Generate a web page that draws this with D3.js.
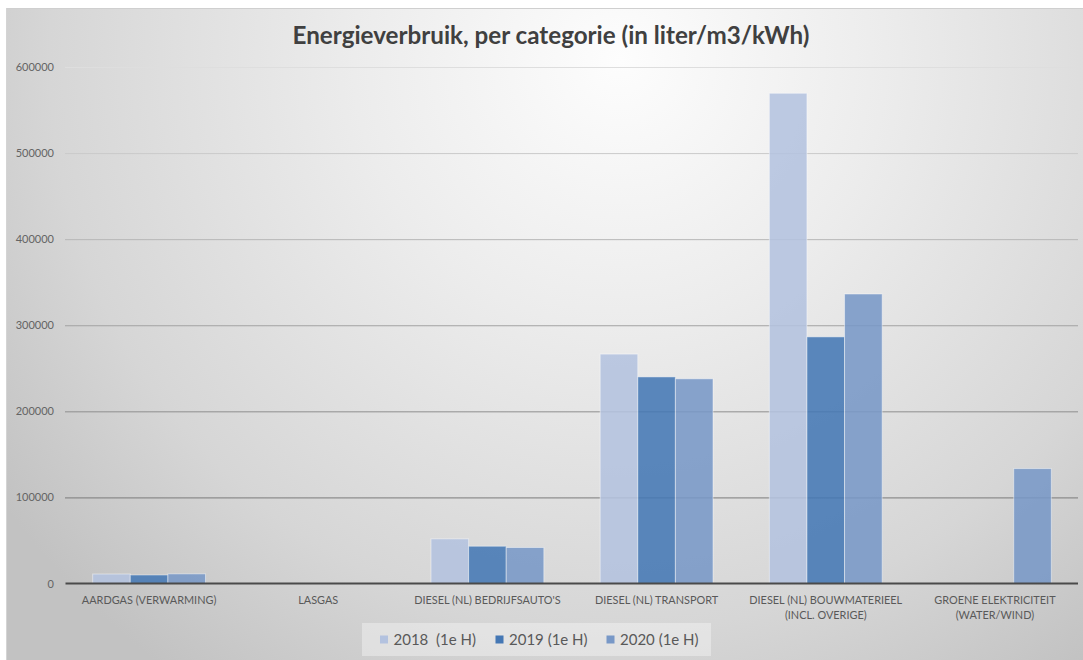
<!DOCTYPE html>
<html>
<head>
<meta charset="utf-8">
<script src="https://cdn.jsdelivr.net/npm/d3@7/dist/d3.min.js"></script>
<style>
  html, body { margin: 0; padding: 0; background: #ffffff; }
  svg { display: block; }
</style>
</head>
<body>
<svg id="chart" width="1083" height="660"></svg>
<script>
const title = "Energieverbruik, per categorie (in liter/m3/kWh)";
const categories = [
  "AARDGAS (VERWARMING)",
  "LASGAS",
  "DIESEL (NL) BEDRIJFSAUTO'S",
  "DIESEL (NL) TRANSPORT",
  "DIESEL (NL) BOUWMATERIEEL\n(INCL. OVERIGE)",
  "GROENE ELEKTRICITEIT\n(WATER/WIND)"
];
const seriesNames = ["2018  (1e H)", "2019 (1e H)", "2020 (1e H)"];
const values2018 = [11000, 0, 51900, 266500, 569500, 0];
const values2019 = [9900, 0, 43300, 240000, 286500, 0];
const values2020 = [11200, 0, 41800, 237800, 336300, 133500];
const yTicks = [0, 100000, 200000, 300000, 400000, 500000, 600000];
const seriesColors = ["#b3c2df", "#4477b4", "#7898c7"];

const seriesValues = [values2018, values2019, values2020];
const svg = d3.select("#chart");
const W = 1083, H = 660;

// background
const defs = svg.append("defs");
const rg = defs.append("radialGradient").attr("id", "bg")
  .attr("gradientUnits", "userSpaceOnUse")
  .attr("cx", 620).attr("cy", 60).attr("r", 760)
  .attr("fx", 620).attr("fy", 60);
rg.append("stop").attr("offset", "0%").attr("stop-color", "#fdfdfd");
rg.append("stop").attr("offset", "35%").attr("stop-color", "#ececec");
rg.append("stop").attr("offset", "75%").attr("stop-color", "#d6d6d6");
rg.append("stop").attr("offset", "100%").attr("stop-color", "#c2c2c2");

svg.append("rect").attr("x", 0).attr("y", 0).attr("width", W).attr("height", H).attr("fill", "#ffffff");
svg.append("rect").attr("x", 6).attr("y", 8).attr("width", W - 6).attr("height", H - 8).attr("fill", "url(#bg)");
svg.append("line").attr("x1", 6).attr("x2", W).attr("y1", 8.5).attr("y2", 8.5).attr("stroke", "#cfcfcf");
svg.append("line").attr("x1", 6.5).attr("x2", 6.5).attr("y1", 8).attr("y2", H).attr("stroke", "#d4d4d4");

const x0 = d3.scaleBand().domain(categories).range([64.5, 1079.5]).paddingInner(0.333).paddingOuter(0.1665);
const x1 = d3.scaleBand().domain(seriesNames).range([0, x0.bandwidth()]).padding(0);
const y = d3.scaleLinear().domain([0, 600000]).range([583.5, 67]);
const gridColor = d3.scaleLinear().domain([100000, 600000]).range(["#7a7a7a", "#dedede"]);

// gridlines
const grid = svg.append("g")
  .attr("transform", "translate(65,0)")
  .call(d3.axisLeft(y).tickValues(yTicks.filter(v => v > 0)).tickSize(-1013).tickFormat(""));
grid.select(".domain").remove();
grid.selectAll(".tick line").attr("stroke", d => gridColor(d)).attr("stroke-width", 1);

// y labels
const yAxis = svg.append("g")
  .attr("transform", "translate(54,0)")
  .call(d3.axisLeft(y).tickValues(yTicks).tickSize(0).tickPadding(0).tickFormat(d3.format("d")));
yAxis.select(".domain").remove();
yAxis.selectAll("text").attr("font-family", "Lato, 'Open Sans', sans-serif").attr("font-size", 11).attr("fill", "#646464");

// bars
const groups = svg.append("g").selectAll("g").data(categories).join("g")
  .attr("transform", d => `translate(${x0(d)},0)`);
groups.selectAll("rect")
  .data((d, i) => seriesNames.map((s, j) => ({ s, j, v: seriesValues[j][i] })))
  .join("rect")
  .attr("x", d => x1(d.s))
  .attr("width", x1.bandwidth())
  .attr("y", d => y(d.v))
  .attr("height", d => y(0) - y(d.v))
  .attr("fill", d => seriesColors[d.j])
  .attr("fill-opacity", 0.87)
  .attr("stroke", "#ffffff")
  .attr("stroke-opacity", d => d.v > 0 ? 0.45 : 0)
  .attr("stroke-width", 1);

// x axis line
const xAxis = svg.append("g")
  .attr("transform", `translate(0,${y(0)})`)
  .call(d3.axisBottom(x0).tickSize(0).tickPadding(0).tickFormat(""));
xAxis.select(".domain").attr("d", "M65.5,0H1078").attr("stroke", "#4a4a4a").attr("stroke-width", 2);

// x labels
const xl = svg.append("g").selectAll("text").data(categories).join("text")
  .attr("x", d => x0(d) + x0.bandwidth() / 2)
  .attr("y", 604)
  .attr("text-anchor", "middle")
  .attr("font-family", "Lato, 'Open Sans', sans-serif")
  .attr("font-size", 10.9)
  .attr("fill", "#595959");
xl.each(function(d) {
  const lines = d.split("\n");
  d3.select(this).selectAll("tspan").data(lines).join("tspan")
    .attr("x", x0(d) + x0.bandwidth() / 2)
    .attr("dy", (l, i) => i === 0 ? 0 : 14.5)
    .text(l => l);
});

// title
svg.append("text")
  .attr("x", 551).attr("y", 44)
  .attr("text-anchor", "middle")
  .attr("font-family", "Lato, 'Open Sans', sans-serif")
  .attr("font-weight", "bold")
  .attr("font-size", 24.2)
  .attr("fill", "#404040")
  .text(title);

// legend
const legend = svg.append("g");
legend.append("rect").attr("x", 362).attr("y", 623).attr("width", 349).attr("height", 33)
  .attr("fill", "#ffffff").attr("fill-opacity", 0.35);
const legendStarts = [380, 495.5, 606.5];
const items = legend.selectAll("g").data(seriesNames).join("g")
  .attr("transform", (d, i) => `translate(${legendStarts[i]},0)`);
items.append("rect").attr("x", 0).attr("y", 635.5).attr("width", 8).attr("height", 8)
  .attr("fill", (d, i) => seriesColors[i]);
items.append("text").attr("x", 13.5).attr("y", 645)
  .attr("font-family", "Lato, 'Open Sans', sans-serif")
  .attr("font-size", 15)
  .attr("fill", "#595959")
  .style("white-space", "pre")
  .attr("xml:space", "preserve")
  .text(d => d);
</script>
</body>
</html>
